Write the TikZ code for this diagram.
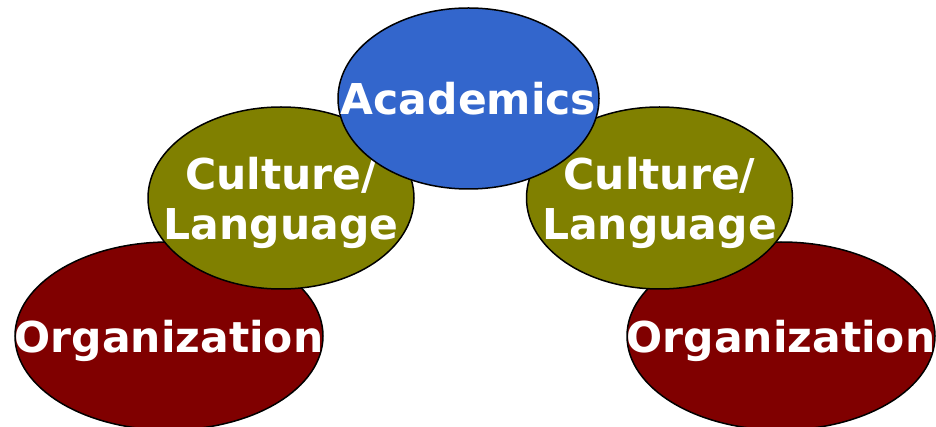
\documentclass[tikz,border=0pt]{standalone}
\usepackage{fontspec}
\setmainfont{DejaVu Sans}
\definecolor{acadblue}{RGB}{51,102,204}
\definecolor{cultolive}{RGB}{128,128,0}
\definecolor{orgred}{RGB}{128,0,0}
\begin{document}
\begin{tikzpicture}[x=1pt, y=-1pt,
		blob/.style={draw=black, line width=1.5pt},
		word/.style={inner sep=0pt, text=white, font=\fontsize{42.5}{50}\selectfont\bfseries,
			align=center, text depth=0pt}]
		\useasboundingbox (0,0) rectangle (936,427);
		\coordinate (orgL) at (169,336);
		\coordinate (orgR) at (781,336);
		\coordinate (cultL) at (281,198);
		\coordinate (cultR) at (659.5,198);
		\coordinate (acad) at (468.5,98.5);

		% bottom row
		\draw [blob, fill=orgred] (orgL) ellipse (154 and 94);
		\node [word] (orgLtext) at (orgL) {Organization};
		\draw [blob, fill=orgred] (orgR) ellipse (154 and 94);
		\node [word] (orgRtext) at (orgR) {Organization};

		% middle row
		\draw [blob, fill=cultolive] (cultL) ellipse (133 and 91);
		\node [word] (cultLtext) at (cultL) {Culture/\\Language};
		\draw [blob, fill=cultolive] (cultR) ellipse (133 and 91);
		\node [word] (cultRtext) at (cultR) {Culture/\\Language};

		% top
		\draw [blob, fill=acadblue] (acad) ellipse (130.5 and 90.5);
		\node [word] (acadtext) at (acad) {Academics};
	\end{tikzpicture}
\end{document}
